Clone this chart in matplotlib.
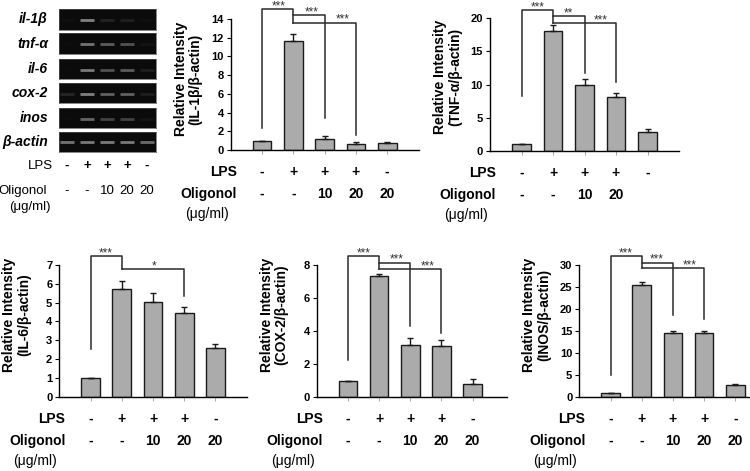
import matplotlib.pyplot as plt
import numpy as np

plt.rcParams['font.family'] = ['Liberation Sans', 'DejaVu Sans']

W, H = 750, 471

# ---------------------------------------------------------------- data
lanes = [1, 2, 3, 4, 5]
lps = ['-', '+', '+', '+', '-']
oligonol = ['-', '-', '10', '20', '20']
oligonol_tnf = ['-', '-', '10', '20', '']

genes = ['il-1β', 'tnf-α', 'il-6', 'cox-2', 'inos', 'β-actin']
# band brightness per lane (0 = black gel)
band_il1b = [0.06, 0.50, 0.14, 0.12, 0.06]
band_tnf = [0.05, 0.45, 0.36, 0.32, 0.08]
band_il6 = [0.05, 0.48, 0.32, 0.36, 0.12]
band_cox2 = [0.15, 0.50, 0.38, 0.38, 0.12]
band_inos = [0.05, 0.40, 0.26, 0.26, 0.08]
band_actin = [0.45, 0.48, 0.48, 0.48, 0.42]

il1b_mean = [1.0, 11.6, 1.2, 0.62, 0.7]
il1b_err = [0.0, 0.8, 0.3, 0.2, 0.2]

tnf_mean = [1.0, 18.1, 10.0, 8.2, 2.8]
tnf_err = [0.0, 0.9, 0.8, 0.5, 0.5]

il6_mean = [1.0, 5.75, 5.05, 4.47, 2.58]
il6_err = [0.0, 0.4, 0.45, 0.3, 0.2]

cox2_mean = [0.97, 7.35, 3.12, 3.07, 0.78]
cox2_err = [0.0, 0.12, 0.47, 0.37, 0.3]

inos_mean = [0.9, 25.4, 14.5, 14.5, 2.7]
inos_err = [0.0, 0.8, 0.5, 0.5, 0.2]

# (from bar, to bar, height, start at from-bar, end at to-bar, stars, star x)
il1b_sig = [(1, 2, 15.03, 2.3, 13.6, '***', 1.52), (2, 3, 14.43, 14.43, 3.38, '***', 2.58),
            (2, 4, 13.6, 13.6, 1.6, '***', 3.59)]
tnf_sig = [(1, 2, 21.25, 8.3, 19.3, '***', 1.5), (2, 3, 20.35, 20.35, 11.7, '**', 2.5),
           (2, 4, 19.3, 19.3, 10.4, '***', 3.5)]
il6_sig = [(1, 2, 7.48, 2.54, 6.77, '***', 1.5), (2, 4, 6.77, 6.77, 5.37, '*', 3.02)]
cox2_sig = [(1, 2, 8.55, 2.23, 7.74, '***', 1.5), (2, 3, 8.14, 8.14, 4.29, '***', 2.55),
            (2, 4, 7.74, 7.74, 3.89, '***', 3.55)]
inos_sig = [(1, 2, 32.05, 4.9, 29.24, '***', 1.5), (2, 3, 30.53, 30.53, 18.6, '***', 2.48),
            (2, 4, 29.24, 29.24, 17.8, '***', 3.53)]

fig = plt.figure(figsize=(W / 100, H / 100), dpi=100)


def box(left, right, top, bottom):
    return [left / W, 1 - bottom / H, (right - left) / W, (bottom - top) / H]


# ---------------------------------------------------------------- gel panel
gel_rows = [(9, 30), (33, 54), (59, 79), (83, 103), (108, 128), (132, 152)]
bands = [band_il1b, band_tnf, band_il6, band_cox2, band_inos, band_actin]
for gene, (top, bottom), lev in zip(genes, gel_rows, bands):
    g = fig.add_axes(box(59, 156, top, bottom))
    g.set_facecolor('#0b0b0b')
    g.set_xlim(0.6, 5.45)
    g.set_ylim(-1, 1)
    g.hlines(np.full(5, -0.05), np.array(lanes) - 0.36, np.array(lanes) + 0.36,
             colors=[(v, v, v) for v in lev], linewidth=2.0)
    g.set_xticks([])
    g.set_yticks([])
    for s in g.spines.values():
        s.set_color('#555555')
        s.set_linewidth(0.5)
    g.annotate(gene, xy=(0, 0.5), xycoords='axes fraction', xytext=(-11, 0),
               textcoords='offset pixels', ha='right', va='center',
               fontsize=10, fontweight='bold', fontstyle='italic')

gx = (g.get_xaxis_transform())
for i, lane in enumerate(lanes):
    g.annotate(lps[i], xy=(lane, 0), xycoords=gx, xytext=(0, -14),
               textcoords='offset pixels', ha='center', va='center', fontsize=9.5,
               fontweight='bold')
    g.annotate(oligonol[i], xy=(lane, 0), xycoords=gx, xytext=(0, -39),
               textcoords='offset pixels', ha='center', va='center', fontsize=9.5)
g.annotate('LPS', xy=(0, 0), xycoords='axes fraction', xytext=(-6, -14),
           textcoords='offset pixels', ha='right', va='center', fontsize=9.5)
g.annotate('Oligonol', xy=(0, 0), xycoords='axes fraction', xytext=(-12, -39),
           textcoords='offset pixels', ha='right', va='center', fontsize=9.5)
g.annotate('(μg/ml)', xy=(0, 0), xycoords='axes fraction', xytext=(-29, -55),
           textcoords='offset pixels', ha='center', va='center', fontsize=9.5)


# ---------------------------------------------------------------- bar charts
def chart(rect, xmax, means, errs, ymax, ystep, ylabel, sig, olig, label_y):
    ax = fig.add_axes(rect)
    ax.bar(lanes, means, width=0.6, color='#ababab', edgecolor='#1a1a1a',
           linewidth=1.0, zorder=2)
    ax.errorbar(lanes, means, yerr=[np.zeros(5), errs], fmt='none', ecolor='#1a1a1a',
                elinewidth=1.0, capsize=2.3, capthick=1.0, zorder=3)
    ax.set_xlim(0, xmax)
    ax.set_ylim(0, ymax)
    ax.set_yticks(np.arange(0, ymax + 0.01, ystep))
    ax.set_yticklabels([f'{v:g}' for v in np.arange(0, ymax + 0.01, ystep)],
                       fontsize=8, fontweight='bold')
    ax.set_xticks(lanes)
    ax.set_xticklabels([])
    ax.tick_params(axis='y', length=3, width=0.8, pad=2)
    ax.tick_params(axis='x', length=3, width=0.6, color='#999999')
    for side in ['top', 'right']:
        ax.spines[side].set_visible(False)
    for side in ['left', 'bottom']:
        ax.spines[side].set_linewidth(1.0)
    ax.set_facecolor('none')

    ax.set_ylabel(ylabel, fontsize=10, fontweight='bold', linespacing=1.1)
    wpx = rect[2] * W
    ax.yaxis.set_label_coords(-28 / wpx, label_y)

    for a, b, h, ya, yb, stars, sx in sig:
        ax.plot([a, a, b, b], [ya, h, h, yb], color='#2a2a2a', linewidth=1.1,
                clip_on=False, zorder=4)
        ax.annotate(stars, xy=(sx, h), xytext=(0, -3), textcoords='offset pixels',
                    ha='center', va='bottom', fontsize=8.5, color='#333333',
                    annotation_clip=False)

    xt = ax.get_xaxis_transform()
    for i, lane in enumerate(lanes):
        ax.annotate(lps[i], xy=(lane, 0), xycoords=xt, xytext=(0, -22),
                    textcoords='offset pixels', ha='center', va='center',
                    fontsize=10, fontweight='bold')
        ax.annotate(olig[i], xy=(lane, 0), xycoords=xt, xytext=(0, -44),
                    textcoords='offset pixels', ha='center', va='center',
                    fontsize=10, fontweight='bold')
    ax.annotate('LPS', xy=(0, 0), xycoords='axes fraction', xytext=(6, -22),
                textcoords='offset pixels', ha='right', va='center',
                fontsize=10, fontweight='bold')
    ax.annotate('Oligonol', xy=(0, 0), xycoords='axes fraction', xytext=(6, -44),
                textcoords='offset pixels', ha='right', va='center',
                fontsize=10, fontweight='bold')
    ax.annotate('(μg/ml)', xy=(0, 0), xycoords='axes fraction', xytext=(-24, -64),
                textcoords='offset pixels', ha='center', va='center', fontsize=10)
    return ax


chart(box(230.7, 418.5, 19, 150), 6.0, il1b_mean, il1b_err, 14, 2,
      'Relative Intensity\n(IL-1β/β-actin)', il1b_sig, oligonol, 0.54)
chart(box(490, 679, 18.3, 151), 6.0, tnf_mean, tnf_err, 20, 5,
      'Relative Intensity\n(TNF-α/β-actin)', tnf_sig, oligonol_tnf, 0.56)
chart(box(59.3, 246.7, 265, 396.7), 6.0, il6_mean, il6_err, 7, 1,
      'Relative Intensity\n(IL-6/β-actin)', il6_sig, oligonol, 0.62)
chart(box(316.7, 507, 265, 396.7), 6.1, cox2_mean, cox2_err, 8, 2,
      'Relative Intensity\n(COX-2/β-actin)', cox2_sig, oligonol, 0.62)
chart(box(579.3, 750, 265, 396.7), 5.47, inos_mean, inos_err, 30, 5,
      'Relative Intensity\n(INOS/β-actin)', inos_sig, oligonol, 0.62)

fig.savefig('out.png', dpi=100, facecolor='white')
